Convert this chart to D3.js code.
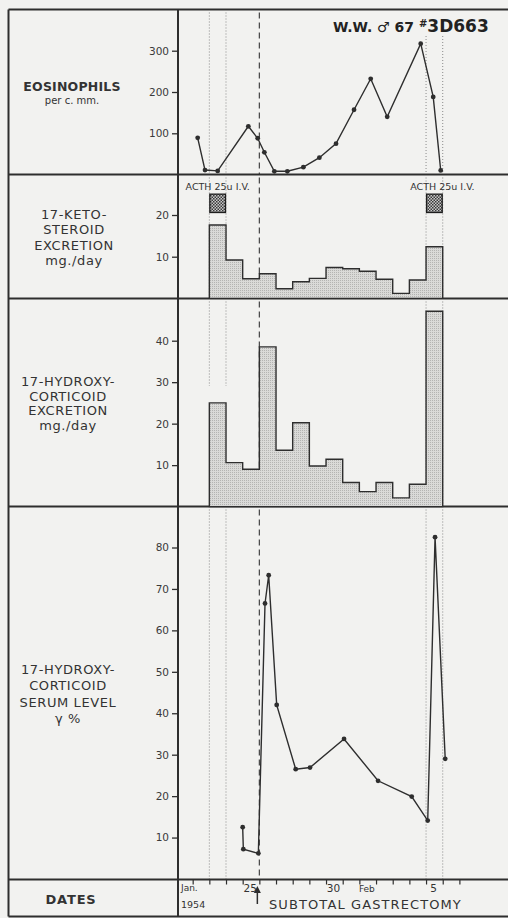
<!DOCTYPE html>
<html>
<head>
<meta charset="utf-8">
<script src="https://cdn.jsdelivr.net/npm/d3@7"></script>
<style>
  body { margin: 0; background: #f2f2f0; }
  svg { display: block; font-family: "DejaVu Sans", sans-serif; }
</style>
</head>
<body>
<svg id="chart" width="508" height="918"></svg>
<script>
(function() {
  // days are counted from Jan 1 1954 (Feb 1 = 32), fractions are time of day
  var eosDays = [22.3, 22.74, 23.5, 25.34, 25.9, 26.3, 26.9, 27.68, 28.64, 29.6, 30.6, 31.68, 32.68, 33.67, 35.68, 36.43, 36.88];
  var eosValues = [89, 11, 9, 117, 88, 54, 8, 8, 18, 41, 75, 157, 232, 140, 317, 188, 10];

  var excretionDays = [23, 24, 25, 26, 27, 28, 29, 30, 31, 32, 33, 34, 35, 36];
  var ketoValues = [17.6, 9.2, 4.7, 5.9, 2.3, 4.0, 4.8, 7.4, 7.1, 6.5, 4.6, 1.2, 4.4, 12.4];
  var hydroxyValues = [25.0, 10.6, 9.0, 38.5, 13.6, 20.2, 9.8, 11.4, 5.8, 3.6, 5.8, 2.1, 5.4, 47.1];

  var serumDays = [25.0, 25.04, 25.94, 26.34, 26.56, 27.04, 28.18, 29.04, 31.08, 33.12, 35.14, 36.1, 36.54, 37.15];
  var serumValues = [12.5, 7.2, 6.2, 66.5, 73.3, 42, 26.5, 26.9, 33.8, 23.7, 19.9, 14.1, 82.5, 29.0];

  var acthDays = [23, 36];
  var dottedDays = [23, 24, 36, 37];
  var surgeryDay = 26;

  var eosTicks = [100, 200, 300];
  var ketoTicks = [10, 20];
  var hydroxyTicks = [10, 20, 30, 40];
  var serumTicks = [10, 20, 30, 40, 50, 60, 70, 80];
  var dateTickDays = d3.range(22, 39);
  var dateLabelDays = [25, 30, 32, 36];
  var dateLabelTexts = ["25", "30", "Feb", "5"];

  var ink = "#2e2e2e";
  var svg = d3.select("#chart");

  var frameLeft = 8.5, axisX = 178, frameRight = 508;
  var rows = [9.5, 174.5, 298.5, 506.5, 879.5, 916.5];

  var x = d3.scaleLinear().domain([21, 41]).range([176, 509.4]);
  var yEos = d3.scaleLinear().domain([0, 300]).range([174.6, 50.7]);
  var yKeto = d3.scaleLinear().domain([0, 20]).range([298.4, 215]);
  var yHydroxy = d3.scaleLinear().domain([0, 40]).range([506.6, 340.7]);
  var ySerum = d3.scaleLinear().domain([0, 80]).range([879, 547.5]);

  // patterns for the stippled bars and the ACTH boxes
  var defs = svg.append("defs");
  var stipple = defs.append("pattern").attr("id", "stipple")
    .attr("width", 2).attr("height", 2).attr("patternUnits", "userSpaceOnUse");
  stipple.append("rect").attr("width", 2).attr("height", 2).attr("fill", "#dadad8");
  stipple.append("rect").attr("width", 1).attr("height", 1).attr("fill", "#b4b4b2");

  var checker = defs.append("pattern").attr("id", "checker")
    .attr("width", 3).attr("height", 3).attr("patternUnits", "userSpaceOnUse");
  checker.append("rect").attr("width", 3).attr("height", 3).attr("fill", "#c9c9c9");
  checker.append("rect").attr("width", 1.5).attr("height", 1.5).attr("fill", "#3a3a3a");
  checker.append("rect").attr("x", 1.5).attr("y", 1.5).attr("width", 1.5).attr("height", 1.5).attr("fill", "#3a3a3a");

  // guide lines (drawn first, bars cover them)
  var guides = svg.append("g");
  var addGuides = function(top, bottom, dottedTop, dottedBottom) {
    guides.selectAll(null).data(dottedDays).enter().append("line")
      .attr("x1", function(d) { return x(d) }).attr("x2", function(d) { return x(d) })
      .attr("y1", function(d) { return d > 30 && dottedTop != null ? dottedTop : top })
      .attr("y2", function(d) { return d < 30 && dottedBottom != null ? dottedBottom : bottom })
      .attr("stroke", "#8a8a8a").attr("stroke-width", 1).attr("stroke-dasharray", "1,2");
    guides.append("line")
      .attr("x1", x(surgeryDay)).attr("x2", x(surgeryDay))
      .attr("y1", top).attr("y2", bottom)
      .attr("stroke", "#444").attr("stroke-width", 1.2).attr("stroke-dasharray", "6,4");
  };
  addGuides(rows[0] + 3, rows[1], 36);
  addGuides(rows[1] + 3, rows[2]);
  addGuides(rows[2] + 3, rows[3], null, 386);
  addGuides(rows[3] + 3, rows[4]);

  // frame
  var frame = svg.append("g").attr("stroke", ink).attr("stroke-width", 2);
  frame.selectAll("line.row").data(rows).enter().append("line")
    .attr("class", "row")
    .attr("x1", frameLeft).attr("x2", frameRight)
    .attr("y1", function(d) { return d }).attr("y2", function(d) { return d });
  frame.append("line").attr("x1", frameLeft).attr("x2", frameLeft).attr("y1", rows[0]).attr("y2", rows[5]);
  frame.append("line").attr("x1", axisX).attr("x2", axisX).attr("y1", rows[0]).attr("y2", rows[5]);

  // y axes
  var drawYAxis = function(scale, ticks) {
    var g = svg.append("g")
      .attr("transform", "translate(" + axisX + ",0)")
      .call(d3.axisLeft(scale).tickValues(ticks).tickSize(6).tickPadding(3));
    g.select(".domain").remove();
    g.selectAll("line").attr("stroke", ink).attr("stroke-width", 1.3);
    g.selectAll("text").attr("fill", "#3a3a3a").attr("font-size", 10.5)
      .attr("font-family", "DejaVu Sans, sans-serif");
  };
  drawYAxis(yEos, eosTicks);
  drawYAxis(yKeto, ketoTicks);
  drawYAxis(yHydroxy, hydroxyTicks);
  drawYAxis(ySerum, serumTicks);

  // eosinophils
  var eosPoints = eosDays.map(function(d, i) { return { day: d, value: eosValues[i] } });
  var eosLine = d3.line().x(function(d) { return x(d.day) }).y(function(d) { return yEos(d.value) });
  svg.append("path").attr("d", eosLine(eosPoints))
    .attr("fill", "none").attr("stroke", ink).attr("stroke-width", 1.4);
  svg.append("g").attr("fill", ink).selectAll("circle").data(eosPoints).enter().append("circle")
    .attr("r", 2.4)
    .attr("cx", function(d) { return x(d.day) })
    .attr("cy", function(d) { return yEos(d.value) });

  // excretion histograms
  var drawSteps = function(scale, values) {
    var pts = excretionDays.map(function(d, i) { return { day: d, value: values[i] } });
    var last = pts[pts.length - 1];
    pts.push({ day: last.day + 1, value: last.value });
    var area = d3.area().curve(d3.curveStepAfter)
      .x(function(d) { return x(d.day) })
      .y0(scale(0))
      .y1(function(d) { return scale(d.value) });
    svg.append("path").attr("d", area(pts))
      .attr("fill", "url(#stipple)").attr("stroke", ink).attr("stroke-width", 1.4);
  };
  drawSteps(yKeto, ketoValues);
  drawSteps(yHydroxy, hydroxyValues);

  // ACTH boxes
  var acth = svg.append("g");
  acth.selectAll("rect").data(acthDays).enter().append("rect")
    .attr("x", function(d) { return x(d) + 0.5 })
    .attr("width", function(d) { return x(d + 1) - x(d) - 1 })
    .attr("y", yKeto(25))
    .attr("height", yKeto(20.6) - yKeto(25))
    .attr("fill", "url(#checker)").attr("stroke", "#1e1e1e").attr("stroke-width", 1.3);
  acth.selectAll("text").data(acthDays).enter().append("text")
    .attr("x", function(d, i) { return x(d + 0.5) + (i ? 8 : 0) })
    .attr("y", 189.5)
    .attr("text-anchor", "middle")
    .attr("font-size", 9.5).attr("fill", "#333")
    .text("ACTH 25u I.V.");

  // serum level
  var serumPoints = serumDays.map(function(d, i) { return { day: d, value: serumValues[i] } });
  var serumLine = d3.line().x(function(d) { return x(d.day) }).y(function(d) { return ySerum(d.value) });
  svg.append("path").attr("d", serumLine(serumPoints))
    .attr("fill", "none").attr("stroke", ink).attr("stroke-width", 1.4);
  svg.append("g").attr("fill", ink).selectAll("circle").data(serumPoints).enter().append("circle")
    .attr("r", 2.4)
    .attr("cx", function(d) { return x(d.day) })
    .attr("cy", function(d) { return ySerum(d.value) });

  // date axis
  var dateAxis = svg.append("g")
    .attr("transform", "translate(0," + rows[4] + ")")
    .call(d3.axisBottom(x).tickValues(dateTickDays).tickSize(5).tickFormat(""));
  dateAxis.select(".domain").remove();
  dateAxis.selectAll("line").attr("stroke", ink).attr("stroke-width", 1.2);

  var dates = svg.append("g").attr("fill", "#333");
  dates.selectAll("text").data(dateLabelDays).enter().append("text")
    .attr("x", function(d) { return x(d + 0.45) })
    .attr("y", 891.5)
    .attr("text-anchor", "middle")
    .attr("font-size", function(d, i) { return dateLabelTexts[i] === "Feb" ? 9 : 10.5 })
    .text(function(d, i) { return dateLabelTexts[i] });
  dates.append("text").attr("x", axisX + 3).attr("y", 891).attr("font-size", 9).text("Jan.");
  dates.append("text").attr("x", axisX + 3).attr("y", 908).attr("font-size", 9.5).text("1954");

  // surgery arrow
  var ax = x(surgeryDay) - 2;
  dates.append("line").attr("x1", ax).attr("x2", ax).attr("y1", 890).attr("y2", 904)
    .attr("stroke", ink).attr("stroke-width", 1.5);
  dates.append("path").attr("d", d3.line()([[ax - 3.5, 893], [ax, 886], [ax + 3.5, 893]]) + "Z").attr("fill", ink);
  dates.append("text").attr("x", 269).attr("y", 909)
    .attr("font-size", 13).attr("letter-spacing", 1.1)
    .text("SUBTOTAL GASTRECTOMY");

  // left column labels
  var labels = svg.append("g").attr("fill", "#333").attr("text-anchor", "middle");
  var addLabel = function(lines, cx, y0, step, size) {
    lines.forEach(function(t, i) {
      labels.append("text").attr("x", cx).attr("y", y0 + i * step)
        .attr("font-size", size).attr("letter-spacing", 0.6).text(t);
    });
  };
  labels.append("text").attr("x", 72).attr("y", 90.5)
    .attr("font-size", 12.5).attr("font-weight", "bold").attr("letter-spacing", 0.2).text("EOSINOPHILS");
  labels.append("text").attr("x", 72).attr("y", 104)
    .attr("font-size", 10).text("per c. mm.");
  addLabel(["17-KETO-", "STEROID", "EXCRETION", "mg./day"], 74, 219, 15.3, 13);
  addLabel(["17-HYDROXY-", "CORTICOID", "EXCRETION", "mg./day"], 68, 386, 14.7, 13);
  addLabel(["17-HYDROXY-", "CORTICOID", "SERUM LEVEL", "\u03b3 %"], 68, 674, 16.4, 13);
  labels.append("text").attr("x", 71).attr("y", 904)
    .attr("font-size", 13).attr("font-weight", "bold").attr("letter-spacing", 0.8).text("DATES");

  // patient id
  var title = svg.append("text").attr("x", 333).attr("y", 32)
    .attr("fill", "#222").attr("font-weight", "bold");
  title.append("tspan").attr("font-size", 14).text("W.W. \u2642 67 ");
  title.append("tspan").attr("font-size", 10).attr("dy", -5).text("#");
  title.append("tspan").attr("font-size", 17).attr("dy", 5).text("3D663");
})();
</script>
</body>
</html>
